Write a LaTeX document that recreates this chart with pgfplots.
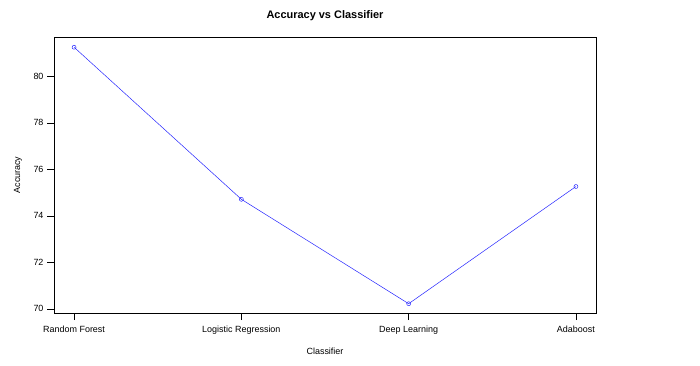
\documentclass[border=0pt]{standalone}
\usepackage{fontspec}
\setmainfont{Liberation Sans}
\usepackage{pgfplots}
\pgfplotsset{compat=1.18}
\begin{document}
\begin{tikzpicture}[x=1bp,y=1bp]
\path[use as bounding box, fill=white] (0,0) rectangle (700,365);
\begin{axis}[at={(54bp,52bp)}, anchor=south west, scale only axis,
  width=542bp, height=276bp,
  xmin=0.88, xmax=4.12, ymin=69.82, ymax=81.69,
  xtick={1,2,3,4},
  xticklabels={Random Forest,Logistic Regression,Deep Learning,Adaboost},
  ytick={70,72,...,80},
  tick align=outside, major tick length=7bp,
  tick style={black, line width=0.6pt},
  xtick pos=bottom, ytick pos=left,
  ticklabel style={font=\fontsize{9}{10}\selectfont},
  xticklabel style={yshift=-2bp},
  /pgf/number format/assume math mode=true,
  axis line style={line width=0.8pt},
  clip=false]
\addplot[blue!85!white, line width=0.5pt, mark=o, mark size=2pt, mark options={line width=0.5pt}]
  coordinates {(1,81.25) (2,74.71) (3,70.22) (4,75.26)};
\end{axis}
\node[font=\bfseries\fontsize{11}{12}\selectfont] at (325,349) {Accuracy vs Classifier};
\node[font=\fontsize{9}{10}\selectfont, rotate=90] at (18,190) {Accuracy};
\node[font=\fontsize{9}{10}\selectfont] at (325,14) {Classifier};
\end{tikzpicture}
\end{document}
